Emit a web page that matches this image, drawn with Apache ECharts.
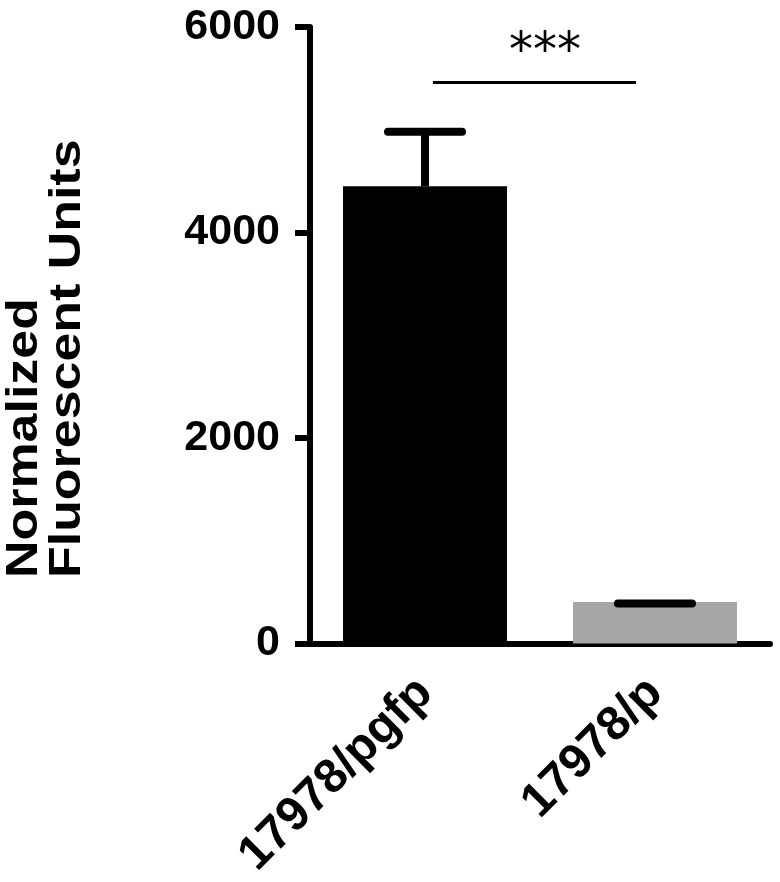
<!DOCTYPE html>
<html>
<head>
<meta charset="utf-8">
<script src="https://cdn.jsdelivr.net/npm/echarts@6/dist/echarts.min.js"></script>
<style>
  html, body { margin: 0; padding: 0; background: #fff; }
  #chart { width: 780px; height: 882px; }
</style>
</head>
<body>
<div id="chart"></div>
<script>
// data
var categories = ['17978/pgfp', '17978/p'];
var meanValues = [4450, 405];
var errorTops = [4980, 390];      // mean + SD (cap position)
var barColors = ['#000000', '#a6a6a6'];
var yTicks = { min: 0, max: 6000, interval: 2000 };
var sigLevel = 5460;              // height of the significance line
var sigText = '***';
var titleLines = ['Normalized', 'Fluorescent Units'];

var chart = echarts.init(document.getElementById('chart'));

var barData = meanValues.map(function (v, i) {
    return { value: v, itemStyle: { color: barColors[i] } };
});
var errData = errorTops.map(function (v, i) {
    return [i, meanValues[i], v];
});

// error bar: vertical stem + rounded cap
function renderError(params, api) {
    var lo = api.coord([api.value(0), api.value(1)]);
    var hi = api.coord([api.value(0), api.value(2)]);
    var capHalf = 37;
    return {
        type: 'group',
        children: [
            {
                type: 'line',
                shape: { x1: lo[0], y1: lo[1], x2: hi[0], y2: hi[1] },
                style: { stroke: '#000', lineWidth: 8 }
            },
            {
                type: 'line',
                shape: { x1: hi[0] - capHalf, y1: hi[1], x2: hi[0] + capHalf, y2: hi[1] },
                style: { stroke: '#000', lineWidth: 8, lineCap: 'round' }
            }
        ]
    };
}

// significance line between the two groups
function renderSig(params, api) {
    var a = api.coord([0, api.value(1)]);
    var b = api.coord([1, api.value(1)]);
    return {
        type: 'group',
        children: [
            {
                type: 'line',
                shape: { x1: a[0] + 8, y1: a[1], x2: b[0] - 19, y2: b[1] },
                style: { stroke: '#000', lineWidth: 3 }
            },
            {
                type: 'text',
                style: {
                    x: (a[0] + b[0]) / 2 + 5,
                    y: a[1] - 5,
                    text: sigText,
                    fill: '#000',
                    font: '48px "DejaVu Sans"',
                    align: 'center',
                    verticalAlign: 'bottom'
                }
            }
        ]
    };
}

var option = {
    animation: false,
    backgroundColor: '#fff',
    grid: { left: 310, right: 10, top: 27, bottom: 237, containLabel: false },
    xAxis: {
        type: 'category',
        data: categories,
        axisLine: { lineStyle: { color: '#000', width: 6 } },
        axisTick: { alignWithLabel: true, length: 15, lineStyle: { color: '#000', width: 6 } },
        axisLabel: {
            rotate: 45,
            margin: 42,
            color: '#000',
            fontSize: 48,
            fontWeight: 'bold',
            fontFamily: 'Liberation Sans'
        }
    },
    yAxis: {
        type: 'value',
        min: yTicks.min,
        max: yTicks.max,
        interval: yTicks.interval,
        splitLine: { show: false },
        axisLine: { show: true, lineStyle: { color: '#000', width: 6 } },
        axisTick: { show: true, length: 15, lineStyle: { color: '#000', width: 6 } },
        axisLabel: {
            margin: 30,
            color: '#000',
            fontSize: 43,
            fontWeight: 'bold',
            fontFamily: 'Liberation Sans',
            formatter: function (v) { return String(v); }
        }
    },
    graphic: [
        {
            type: 'text',
            x: 25, y: 578,
            rotation: Math.PI / 2,
            scaleX: 1.18,
            style: {
                text: titleLines[0],
                fill: '#000',
                font: 'bold 44px "Liberation Sans"',
                align: 'left',
                verticalAlign: 'middle'
            }
        },
        {
            type: 'text',
            x: 68, y: 578,
            rotation: Math.PI / 2,
            scaleX: 1.18,
            style: {
                text: titleLines[1],
                fill: '#000',
                font: 'bold 44px "Liberation Sans"',
                align: 'left',
                verticalAlign: 'middle'
            }
        }
    ],
    series: [
        {
            type: 'bar',
            data: barData,
            barWidth: 164
        },
        {
            type: 'custom',
            renderItem: renderError,
            data: errData,
            z: 3
        },
        {
            type: 'custom',
            renderItem: renderSig,
            data: [[0, sigLevel]],
            z: 3
        }
    ]
};

chart.setOption(option);
</script>
</body>
</html>
